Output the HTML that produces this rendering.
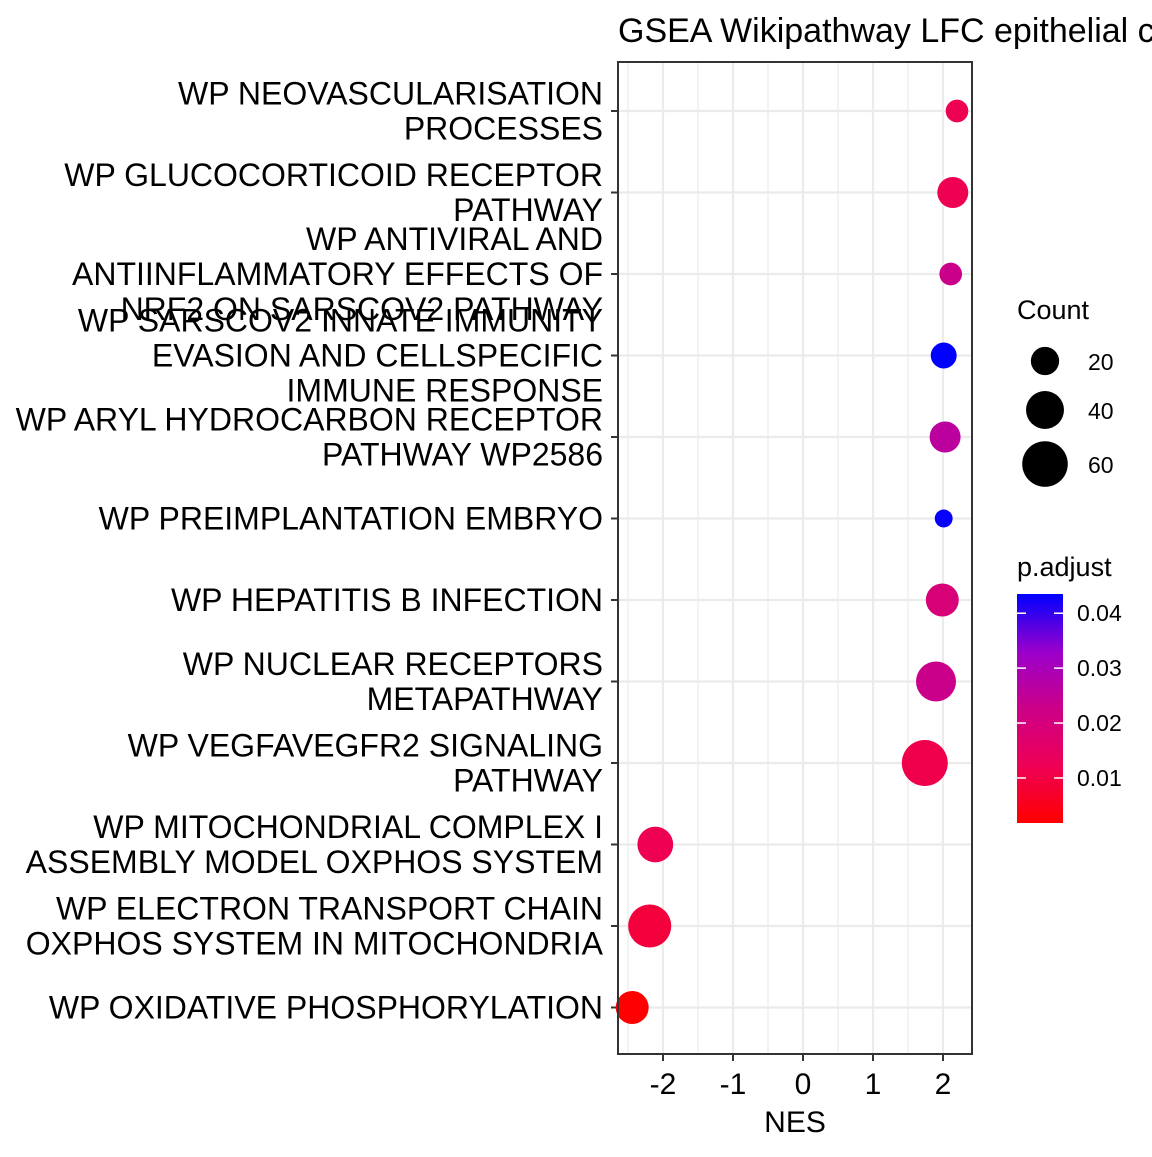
<!DOCTYPE html>
<html><head><meta charset="utf-8"><style>
body{margin:0;background:#fff;}
svg text{font-family:"Liberation Sans",Arial,sans-serif;}
</style></head><body>
<svg id="chart" width="1152" height="1152" xmlns="http://www.w3.org/2000/svg">
<defs><linearGradient id="cbar" x1="0" y1="1" x2="0" y2="0">
<stop offset="0" stop-color="#FF0000"/><stop offset="0.25" stop-color="#EE0055"/><stop offset="0.5" stop-color="#CC0088"/><stop offset="0.75" stop-color="#9900CC"/><stop offset="1" stop-color="#0000FF"/>
</linearGradient></defs>
<text x="618" y="42" font-size="34">GSEA Wikipathway LFC epithelial cells</text>
<g id="plot"></g>
</svg>
<script>
const categories=[
 ["WP NEOVASCULARISATION","PROCESSES"],
 ["WP GLUCOCORTICOID RECEPTOR","PATHWAY"],
 ["WP ANTIVIRAL AND","ANTIINFLAMMATORY EFFECTS OF","NRF2 ON SARSCOV2 PATHWAY"],
 ["WP SARSCOV2 INNATE IMMUNITY","EVASION AND CELLSPECIFIC","IMMUNE RESPONSE"],
 ["WP ARYL HYDROCARBON RECEPTOR","PATHWAY WP2586"],
 ["WP PREIMPLANTATION EMBRYO"],
 ["WP HEPATITIS B INFECTION"],
 ["WP NUCLEAR RECEPTORS","METAPATHWAY"],
 ["WP VEGFAVEGFR2 SIGNALING","PATHWAY"],
 ["WP MITOCHONDRIAL COMPLEX I","ASSEMBLY MODEL OXPHOS SYSTEM"],
 ["WP ELECTRON TRANSPORT CHAIN","OXPHOS SYSTEM IN MITOCHONDRIA"],
 ["WP OXIDATIVE PHOSPHORYLATION"]];
const nesValues=[2.2,2.14,2.11,2.01,2.03,2.01,1.99,1.9,1.74,-2.11,-2.19,-2.44];
const countValues=[11,25,11,16,25,5,29,45,61,35,53,29];
const padjValues=[0.012,0.012,0.023,0.0435,0.026,0.043,0.019,0.023,0.011,0.012,0.0093,0.0018];
const xTicks=[-2,-1,0,1,2];
const sizeBreaks=[20,40,60];
const colorBreaks=[0.01,0.02,0.03,0.04];

const NS="http://www.w3.org/2000/svg";
const g=document.getElementById('plot');
function mk(tag,attrs,parent){const e=document.createElementNS(NS,tag);for(const k in attrs)e.setAttribute(k,attrs[k]);(parent||g).appendChild(e);return e;}
const PL=618,PR=972,PT=62,PB=1054;
const xS=v=>803+70*v;
const yS=i=>111+i*81.5;
const rS=c=>Math.sqrt(40+8*c);
const pMin=0.0018,pMax=0.0435;
const stops=[[255,0,0],[238,0,85],[204,0,136],[153,0,204],[0,0,255]];
function colS(p){let t=Math.max(0,Math.min(1,(p-pMin)/(pMax-pMin)))*4;let i=Math.min(3,Math.floor(t)),f=t-i;const a=stops[i],b=stops[i+1];return 'rgb('+a.map((v,k)=>Math.round(v+(b[k]-v)*f)).join(',')+')';}

let bg=mk('rect',{x:PL,y:PT,width:PR-PL,height:PB-PT,fill:'#fff'});


for(let i=0;i<xTicks.length-1;i++){const v=(xTicks[i]+xTicks[i+1])/2;let l=mk('line',{x1:xS(v),x2:xS(v),y1:PT,y2:PB,stroke:'#ebebeb','stroke-width':1.2});

}
let lm=mk('line',{x1:xS(-2.5),x2:xS(-2.5),y1:PT,y2:PB,stroke:'#ebebeb','stroke-width':1.2});


xTicks.forEach(v=>{let l=mk('line',{x1:xS(v),x2:xS(v),y1:PT,y2:PB,stroke:'#ebebeb','stroke-width':2.2});


let t=mk('line',{x1:xS(v),x2:xS(v),y1:PB,y2:PB+7,stroke:'#333','stroke-width':2});


let tx=mk('text',{x:xS(v),y:PB+40,'font-size':30,'text-anchor':'middle',fill:'#000'});tx.textContent=v;

});
categories.forEach((lines,i)=>{const y=yS(i);
let l=mk('line',{x1:PL,x2:PR,y1:y,y2:y,stroke:'#ebebeb','stroke-width':2.2});


let t=mk('line',{x1:PL-7,x2:PL,y1:y,y2:y,stroke:'#333','stroke-width':2});


const n=lines.length;
lines.forEach((s,j)=>{let tx=mk('text',{x:603,y:y+(j-(n-1)/2)*35+11,'font-size':32,'text-anchor':'end',fill:'#000'});tx.textContent=s;

});});
nesValues.forEach((v,i)=>{let c=mk('circle',{cx:xS(v),cy:yS(i),r:rS(countValues[i]),fill:colS(padjValues[i])});

});
let bd=mk('rect',{x:PL,y:PT,width:PR-PL,height:PB-PT,fill:'none',stroke:'#333','stroke-width':2});


let xt=mk('text',{x:795,y:1132,'font-size':30,'text-anchor':'middle'});xt.textContent='NES';


let st=mk('text',{x:1017,y:319,'font-size':27});st.textContent='Count';


const ly=[361,410,464];
sizeBreaks.forEach((c,i)=>{let cc=mk('circle',{cx:1045,cy:ly[i],r:rS(c),fill:'#000'});


let tx=mk('text',{x:1088,y:ly[i]+9,'font-size':23});tx.textContent=c;

});
let ct=mk('text',{x:1017,y:576,'font-size':27});ct.textContent='p.adjust';


const CT=594,CB=823;
const cy=p=>CB-(p-pMin)/(pMax-pMin)*(CB-CT);
let cb=mk('rect',{x:1017,y:CT,width:46,height:CB-CT,fill:'url(#cbar)'});


colorBreaks.forEach(p=>{const y=cy(p);
mk('line',{x1:1017,x2:1026,y1:y,y2:y,stroke:'#fff','stroke-width':1.5});
mk('line',{x1:1054,x2:1063,y1:y,y2:y,stroke:'#fff','stroke-width':1.5});
let tx=mk('text',{x:1077,y:y+8,'font-size':23});tx.textContent=p.toFixed(2);

});
</script>
</body></html>
